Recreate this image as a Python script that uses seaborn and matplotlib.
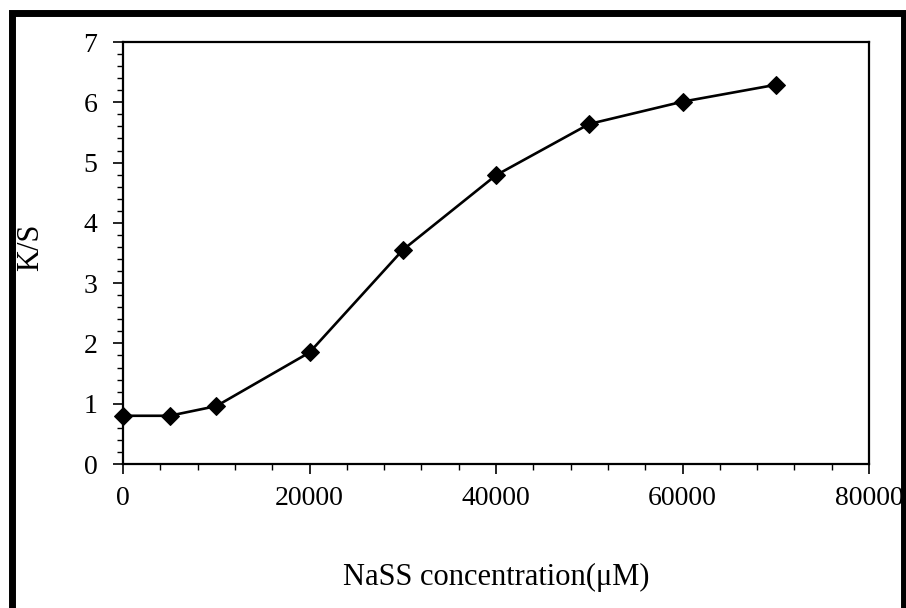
import matplotlib
matplotlib.use("Agg")
import matplotlib.pyplot as plt
from matplotlib.ticker import MultipleLocator
from matplotlib.patches import Rectangle
import seaborn as sns
import pandas as pd

# NaSS concentration (uM) and measured K/S values
concentration = [0, 5000, 10000, 20000, 30000, 40000, 50000, 60000, 70000]
ks_value = [0.80, 0.80, 0.96, 1.85, 3.55, 4.79, 5.64, 6.01, 6.29]

x_ticks = [0, 20000, 40000, 60000, 80000]
x_tick_labels = ["0", "20000", "40000", "60000", "80000"]
y_ticks = [0, 1, 2, 3, 4, 5, 6, 7]

df = pd.DataFrame({"conc": concentration, "ks": ks_value})

sns.set_style("ticks")
plt.rcParams["font.family"] = ["Liberation Serif", "DejaVu Serif"]

fig = plt.figure(figsize=(9.06, 6.08), dpi=100)
fig.patch.set_facecolor("white")
ax = fig.add_axes([123 / 906, (608 - 464) / 608, 746 / 906, 422 / 608])

sns.lineplot(data=df, x="conc", y="ks", ax=ax, color="black", linewidth=1.9,
             marker="D", markersize=9, markeredgecolor="black",
             markerfacecolor="black", clip_on=False)

ax.set_xlim(0, 80000)
ax.set_ylim(0, 7)
ax.set_xticks(x_ticks)
ax.set_xticklabels(x_tick_labels)
ax.set_yticks(y_ticks)
ax.xaxis.set_minor_locator(MultipleLocator(4000))
ax.yaxis.set_minor_locator(MultipleLocator(0.2))

for side in ["left", "right", "top", "bottom"]:
    ax.spines[side].set_visible(True)
    ax.spines[side].set_linewidth(1.6)
    ax.spines[side].set_color("black")

ax.tick_params(axis="both", which="major", direction="out", length=7.5,
               width=1.2, colors="black", labelsize=20)
ax.tick_params(axis="both", which="minor", direction="out", length=4.5,
               width=1.0, colors="black")
ax.tick_params(axis="x", which="major", pad=8)
ax.tick_params(axis="y", which="major", pad=11)

ax.set_xlabel("NaSS concentration(\u03bcM)", fontsize=22, color="black")
ax.set_ylabel("K/S", fontsize=22, color="black")
ax.xaxis.set_label_coords(0.5, (464 - 577) / 422)
ax.xaxis.label.set_va("center")
ax.yaxis.set_label_coords((31 - 123) / 746, (464 - 247) / 422)
ax.yaxis.label.set_va("center")

# Heavy frame around the whole figure
frame = Rectangle((11.5 / 906, -0.05), (904 - 11.5) / 906, (608 - 13) / 608 + 0.05,
                  transform=fig.transFigure, fill=False, edgecolor="black",
                  linewidth=5, clip_on=False)
fig.patches.append(frame)

fig.savefig("out.png", dpi=100, facecolor="white")
